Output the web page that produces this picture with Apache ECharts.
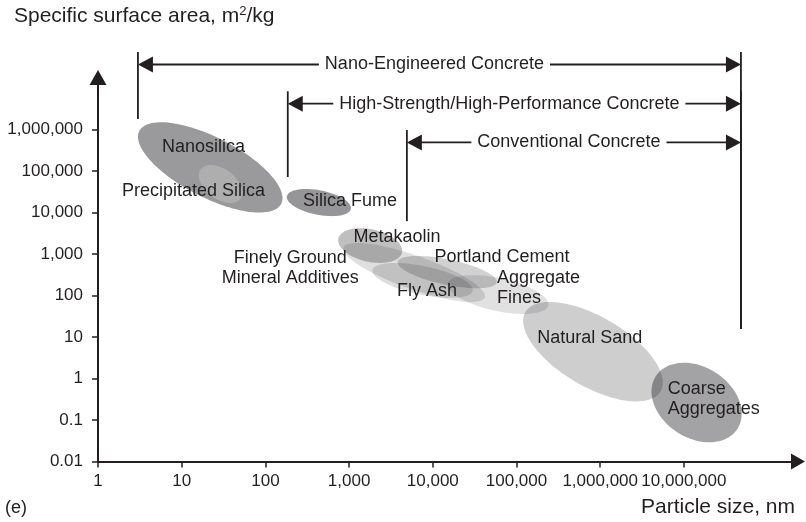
<!DOCTYPE html>
<html><head><meta charset="utf-8">
<script src="https://cdn.jsdelivr.net/npm/echarts@6/dist/echarts.min.js"></script>
<style>html,body{margin:0;padding:0;background:#fff}#c{width:806px;height:522px}</style>
</head><body><div id="c"></div>
<script>
// ---------- data ----------
const materials = ['Nanosilica','Precipitated Silica','Silica Fume','Metakaolin','Finely Ground Mineral Additives','Portland Cement','Fly Ash','Aggregate Fines','Natural Sand','Coarse Aggregates'];
// particle size range, nm
const sizeMin = [3, 16, 180, 740, 850, 3800, 1900, 15000, 120000, 4100000];
const sizeMax = [160, 53, 1050, 4300, 42000, 58000, 30000, 240000, 5600000, 49000000];
// specific surface area range, m2/kg
const areaMin = [10000, 17000, 8200, 610, 70, 150, 88, 36, 0.28, 0.029];
const areaMax = [1500000, 140000, 37000, 4200, 1850, 900, 610, 310, 70, 2.4];
// correlation of log size vs log area inside each zone (tilt)
const tilt = [-0.68, -0.45, -0.4, -0.3, -0.8, -0.6, -0.55, -0.5, -0.62, -0.28];

// label anchors (size nm, area m2/kg)
const labelText = ['Nanosilica','Precipitated Silica','Silica Fume','Metakaolin','Finely Ground\nMineral Additives','Portland Cement','Fly Ash','Aggregate\nFines','Natural Sand','Coarse\nAggregates'];
const labelSize = [18.2, 13.8, 1025, 3730, 198, 67000, 8500, 58300, 750000, 6400000];
const labelArea = [370000, 32700, 18800, 2560, 460, 848, 129, 148, 9.6, 0.318];

// concrete classes (particle size span, nm)
const bracketNames = ['Nano-Engineered Concrete','High-Strength/High-Performance Concrete','Conventional Concrete'];
const bracketFrom = [3, 185, 4900];
const bracketTo = [48000000, 48000000, 48000000];
const bracketFoot = [1790000, 72000, 6200];   // area where the left boundary ends
const bracketLevel = [3.7e7, 4.2e6, 4.9e5];   // area level of the arrow row
const rightFoot = 15.6;

// tick values
const xTicks = [1, 10, 100, 1000, 10000, 100000, 1000000, 10000000];
const yTicks = [0.01, 0.1, 1, 10, 100, 1000, 10000, 100000, 1000000];

// ---------- styles ----------
const FONT = '"Liberation Sans", Arial, Helvetica, sans-serif';
const INK = '#231f20';
const fills = ['rgba(25,25,30,0.44)','rgba(255,255,255,0.2)','rgba(25,25,30,0.455)','rgba(25,25,30,0.28)','rgba(25,25,30,0.14)','rgba(25,25,30,0.2)','rgba(25,25,30,0.15)','rgba(25,25,30,0.13)','rgba(25,25,30,0.21)','rgba(25,25,30,0.40)'];
const labelAlign = ['center','center','center','center','center','center','center','left','center','left'];

const L = Math.log10;
const fmt = v => Number(Math.pow(10, v).toPrecision(10)).toLocaleString('en-US', {maximumFractionDigits: 2});

function ellipseItem(params, api) {
  const i = params.dataIndex;
  const x0 = L(sizeMin[i]), x1 = L(sizeMax[i]);
  const y0 = L(areaMin[i]), y1 = L(areaMax[i]);
  const cx = (x0 + x1) / 2, cy = (y0 + y1) / 2, hx = (x1 - x0) / 2, hy = (y1 - y0) / 2;
  const r = tilt[i], s = Math.sqrt(1 - r * r);
  const pts = [];
  for (let k = 0; k < 120; k++) {
    const t = k / 120 * 2 * Math.PI;
    pts.push(api.coord([cx + hx * Math.cos(t), cy + hy * (r * Math.cos(t) + s * Math.sin(t))]));
  }
  return {type: 'polygon', shape: {points: pts}, style: {fill: fills[i]}};
}

function labelItem(params, api) {
  const i = params.dataIndex;
  const p = api.coord([L(labelSize[i]), L(labelArea[i])]);
  return {type: 'text', x: p[0], y: p[1], style: {text: labelText[i], align: labelAlign[i], verticalAlign: 'middle', fill: INK, fontSize: 18, fontFamily: FONT, lineHeight: 20}};
}

function bracketItem(params, api) {
  const i = params.dataIndex;
  const a = api.coord([L(bracketFrom[i]), L(bracketLevel[i])]);
  const b = api.coord([L(bracketTo[i]), L(bracketLevel[i])]);
  const top = api.coord([0, L(bracketLevel[i]) + 0.3])[1];
  const lf = api.coord([0, L(bracketFoot[i])])[1];
  const rf = api.coord([0, L(rightFoot)])[1];
  const y = a[1], ah = 15, aw = 8;
  const ls = {stroke: INK, lineWidth: 1.8};
  const mid = (a[0] + b[0]) / 2 - 5;
  return {type: 'group', children: [
    {type: 'line', shape: {x1: a[0], y1: top, x2: a[0], y2: lf}, style: ls},
    {type: 'line', shape: {x1: b[0], y1: top, x2: b[0], y2: rf}, style: ls},
    {type: 'line', shape: {x1: a[0] + ah - 2, y1: y, x2: b[0] - ah + 2, y2: y}, style: ls},
    {type: 'polygon', shape: {points: [[a[0], y], [a[0] + ah, y - aw], [a[0] + ah, y + aw]]}, style: {fill: INK}},
    {type: 'polygon', shape: {points: [[b[0], y], [b[0] - ah, y - aw], [b[0] - ah, y + aw]]}, style: {fill: INK}},
    {type: 'text', x: mid, y: y, z2: 5, style: {text: bracketNames[i], align: 'center', verticalAlign: 'middle', fill: INK, fontSize: 18, fontFamily: FONT, backgroundColor: '#fff', padding: [1, 6]}}
  ]};
}

const chart = echarts.init(document.getElementById('c'), null, {renderer: 'canvas'});
chart.setOption({
  animation: false,
  backgroundColor: '#fff',
  textStyle: {fontFamily: FONT},
  title: [
    {text: 'Specific surface area, m{sup|2}/kg', left: 14, top: 5, padding: 0,
     textStyle: {fontSize: 21, fontWeight: 'normal', color: INK, fontFamily: FONT, lineHeight: 23,
       rich: {sup: {fontSize: 13, verticalAlign: 'top', lineHeight: 13, fontFamily: FONT, color: INK}}}},
    {text: 'Particle size, nm', right: 11, top: 496, padding: 0, textStyle: {fontSize: 21, fontWeight: 'normal', color: INK, fontFamily: FONT, lineHeight: 23}},
    {text: '(e)', left: 5, top: 498, padding: 0, textStyle: {fontSize: 18, fontWeight: 'normal', color: INK, fontFamily: FONT, lineHeight: 20}}
  ],
  grid: {left: 98, right: 8, top: 77.5, bottom: 60.5, containLabel: false, outerBoundsMode: 'none'},
  xAxis: {
    type: 'value', min: 0, max: 8.363,
    axisLine: {show: true, onZero: false, symbol: ['none', 'triangle'], symbolSize: [16, 14], lineStyle: {color: INK, width: 2}},
    axisTick: {show: true, length: 6, customValues: xTicks.map(L), lineStyle: {color: INK, width: 1.5}},
    axisLabel: {customValues: xTicks.map(L), formatter: fmt, fontSize: 17, margin: 11, color: INK, fontFamily: FONT},
    splitLine: {show: false}
  },
  yAxis: {
    type: 'value', min: -2, max: 7.255,
    axisLine: {show: true, onZero: false, symbol: ['none', 'triangle'], symbolSize: [17, 15], lineStyle: {color: INK, width: 2}},
    axisTick: {show: true, length: 6, customValues: yTicks.map(L), lineStyle: {color: INK, width: 1.5}},
    axisLabel: {customValues: yTicks.map(L), formatter: fmt, fontSize: 17, margin: 15, color: INK, fontFamily: FONT},
    splitLine: {show: false}
  },
  series: [
    {type: 'custom', name: 'zones', renderItem: ellipseItem, clip: false, silent: true,
     data: materials.map((m, i) => [L(Math.sqrt(sizeMin[i] * sizeMax[i])), L(Math.sqrt(areaMin[i] * areaMax[i]))])},
    {type: 'custom', name: 'labels', renderItem: labelItem, clip: false, silent: true, z: 3,
     data: labelText.map((t, i) => [L(labelSize[i]), L(labelArea[i])])},
    {type: 'custom', name: 'classes', renderItem: bracketItem, clip: false, silent: true, z: 4,
     data: bracketNames.map((n, i) => [L(bracketFrom[i]), L(bracketLevel[i])])}
  ]
});
</script></body></html>
